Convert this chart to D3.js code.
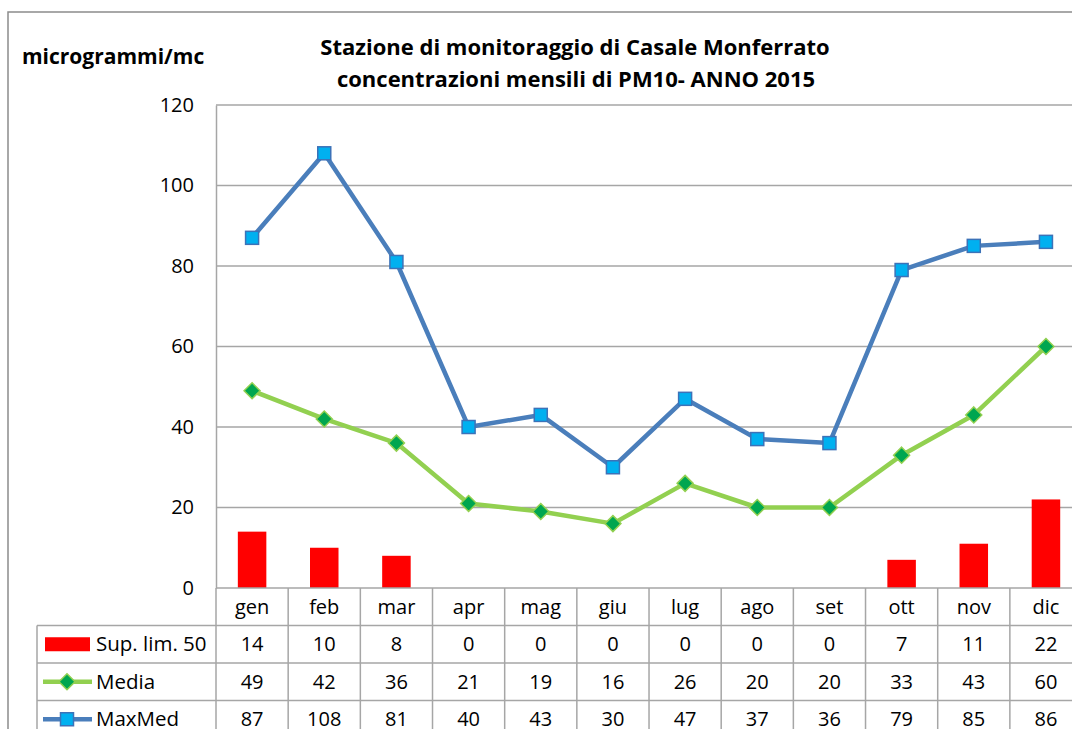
<!DOCTYPE html>
<html><head><meta charset="utf-8">
<script src="https://cdn.jsdelivr.net/npm/d3@7"></script>
<style>
html,body{margin:0;padding:0;background:#fff;overflow:hidden}
text{font-family:"Open Sans",sans-serif;fill:#000}
</style></head>
<body>
<svg id="c" width="1072" height="729"></svg>
<script>
const months = ["gen","feb","mar","apr","mag","giu","lug","ago","set","ott","nov","dic"];
const supLim50 = [14,10,8,0,0,0,0,0,0,7,11,22];
const media = [49,42,36,21,19,16,26,20,20,33,43,60];
const maxMed = [87,108,81,40,43,30,47,37,36,79,85,86];
const yTicks = [0,20,40,60,80,100,120];
const seriesNames = ["Sup. lim. 50","Media","MaxMed"];
const titleLines = ["Stazione di monitoraggio di Casale Monferrato","concentrazioni mensili di PM10- ANNO 2015"];
const yUnit = "microgrammi/mc";

const svg = d3.select("#c");
const L = 216, step = 72.17, R = L + step*months.length;
const T = 105, B = 588;
const gridCol = "#a6a6a6";

// outer frame
svg.append("rect").attr("x",8).attr("y",12).attr("width",1200).attr("height",900)
  .attr("fill","none").attr("stroke","#8c8c8c").attr("stroke-width",1.5);

const x = d3.scaleBand().domain(months).range([L,R]);
const y = d3.scaleLinear().domain([0,120]).range([B,T]);

// gridlines
svg.append("g").selectAll("line").data(yTicks.filter(d=>d>0)).join("line")
  .attr("x1",L).attr("x2",R).attr("y1",d=>y(d)).attr("y2",d=>y(d))
  .attr("stroke",gridCol).attr("stroke-width",1.5);

// y axis
const ya = svg.append("g").attr("transform",`translate(${L},0)`)
  .call(d3.axisLeft(y).tickValues(yTicks).tickSize(0).tickPadding(22));
ya.select(".domain").attr("stroke",gridCol).attr("stroke-width",1.5);
ya.selectAll("text").style("font-family","'Open Sans',sans-serif").style("font-size","20px").attr("fill","#000");

// bars
const bw = x.bandwidth()*0.395;
svg.append("g").selectAll("rect").data(supLim50).join("rect")
  .attr("x",(d,i)=>x(months[i])+x.bandwidth()/2-bw/2)
  .attr("y",d=>y(d)).attr("width",bw).attr("height",d=>B-y(d))
  .attr("fill","#ff0000");

const cx = i => x(months[i])+x.bandwidth()/2;
const line = d3.line().x((d,i)=>cx(i)).y(d=>y(d));

// Media
svg.append("path").datum(media).attr("d",line).attr("fill","none")
  .attr("stroke","#92d050").attr("stroke-width",4.5).attr("stroke-linejoin","round");
const dia = "M0,-8L8,0L0,8L-8,0Z";
svg.append("g").selectAll("path").data(media).join("path")
  .attr("d",dia).attr("transform",(d,i)=>`translate(${cx(i)},${y(d)})`)
  .attr("fill","#00a650").attr("stroke","#92d050").attr("stroke-width",1.5);

// MaxMed
svg.append("path").datum(maxMed).attr("d",line).attr("fill","none")
  .attr("stroke","#4a7ebb").attr("stroke-width",4.5).attr("stroke-linejoin","round");
svg.append("g").selectAll("rect").data(maxMed).join("rect")
  .attr("x",(d,i)=>cx(i)-6.5).attr("y",d=>y(d)-6.5).attr("width",13).attr("height",13)
  .attr("fill","#00b0f0").attr("stroke","#3c72b8").attr("stroke-width",1.5);

// data table
const rowH = 37.5;
const rows = [supLim50, media, maxMed];
const tLeft = 37;
const tg = svg.append("g");
tg.append("line").attr("x1",L).attr("x2",R).attr("y1",B).attr("y2",B).attr("stroke",gridCol).attr("stroke-width",1.5);
for (let r=1;r<=4;r++){
  tg.append("line").attr("x1",tLeft).attr("x2",R).attr("y1",B+r*rowH).attr("y2",B+r*rowH)
    .attr("stroke",gridCol).attr("stroke-width",1.5);
}
months.forEach((m,i)=>{
  tg.append("line").attr("x1",x(m)).attr("x2",x(m)).attr("y1",B).attr("y2",B+4*rowH)
    .attr("stroke",gridCol).attr("stroke-width",1.5);
});
tg.append("line").attr("x1",tLeft).attr("x2",tLeft).attr("y1",B+rowH).attr("y2",B+4*rowH)
  .attr("stroke",gridCol).attr("stroke-width",1.5);
tg.selectAll("text.h").data(months).join("text").attr("class","h")
  .attr("x",(d,i)=>cx(i)).attr("y",B+rowH/2).attr("dy","0.35em")
  .attr("text-anchor","middle").style("font-size","20px").text(d=>d);
rows.forEach((vals,r)=>{
  tg.selectAll("text.r"+r).data(vals).join("text").attr("class","r"+r)
    .attr("x",(d,i)=>cx(i)).attr("y",B+(r+1.5)*rowH).attr("dy","0.35em")
    .attr("text-anchor","middle").style("font-size","20px").text(d=>d);
  tg.append("text").attr("x",96).attr("y",B+(r+1.5)*rowH).attr("dy","0.35em")
    .style("font-size","20.5px").text(seriesNames[r]);
});
const ky = i => B+(i+1.5)*rowH;
tg.append("rect").attr("x",45).attr("y",ky(0)-7).attr("width",45).attr("height",14).attr("fill","#ff0000");
tg.append("line").attr("x1",43).attr("x2",92).attr("y1",ky(1)).attr("y2",ky(1)).attr("stroke","#92d050").attr("stroke-width",4.5);
tg.append("path").attr("d",dia).attr("transform",`translate(67,${ky(1)})`).attr("fill","#00a650").attr("stroke","#92d050").attr("stroke-width",1.5);
tg.append("line").attr("x1",43).attr("x2",92).attr("y1",ky(2)).attr("y2",ky(2)).attr("stroke","#4a7ebb").attr("stroke-width",4.5);
tg.append("rect").attr("x",60.5).attr("y",ky(2)-6.5).attr("width",13).attr("height",13).attr("fill","#00b0f0").attr("stroke","#3c72b8").attr("stroke-width",1.5);

// titles
svg.append("text").attr("x",575).attr("y",55).attr("text-anchor","middle")
  .style("font-size","22px").style("font-weight","bold").text(titleLines[0]);
svg.append("text").attr("x",576).attr("y",87).attr("text-anchor","middle")
  .style("font-size","22px").style("font-weight","bold").text(titleLines[1]);
svg.append("text").attr("x",22).attr("y",64)
  .style("font-size","21px").style("font-weight","bold").text(yUnit);
</script>
</body></html>
